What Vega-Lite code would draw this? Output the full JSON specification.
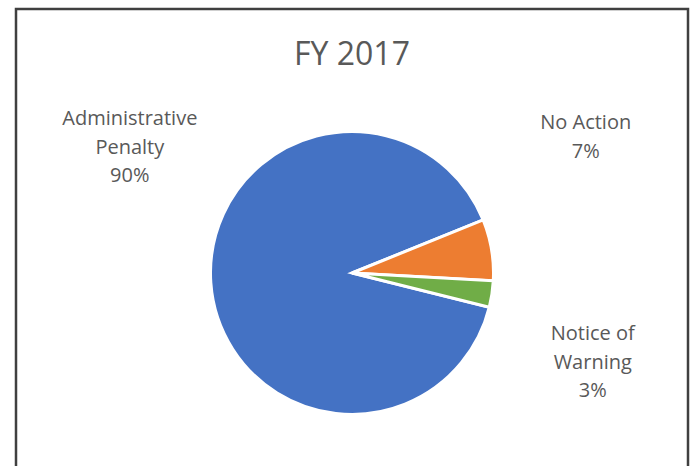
{
  "$schema": "https://vega.github.io/schema/vega-lite/v6.json",
  "width": 672,
  "height": 528,
  "autosize": {"type": "none"},
  "padding": {"left": 16, "top": 9, "right": 3, "bottom": 0},
  "background": "white",
  "view": {"stroke": "#404040", "strokeWidth": 2.5},
  "config": {"view": {"stroke": "#404040", "strokeWidth": 2.5}},
  "title": {
    "text": "FY 2017",
    "font": "Open Sans",
    "fontSize": 32,
    "fontWeight": "normal",
    "color": "#595959",
    "anchor": "middle",
    "baseline": "alphabetic",
    "offset": -56,
    "dy": 32
  },
  "data": {
    "values": [
      {"category": "Administrative Penalty", "percent": 90},
      {"category": "No Action", "percent": 7},
      {"category": "Notice of Warning", "percent": 3}
    ]
  },
  "transform": [
    {
      "calculate": "(datum.category === 'Administrative Penalty' ? 'Administrative|Penalty' : datum.category === 'Notice of Warning' ? 'Notice of|Warning' : datum.category) + '|' + datum.percent + '%'",
      "as": "label"
    }
  ],
  "encoding": {
    "theta": {
      "field": "percent",
      "type": "quantitative",
      "stack": true,
      "scale": {"range": [1.815, 8.098]}
    }
  },
  "layer": [
    {
      "mark": {"type": "arc", "outerRadius": 141.5, "stroke": "white", "strokeWidth": 3},
      "encoding": {
        "color": {
          "field": "category",
          "type": "nominal",
          "scale": {
            "domain": ["Administrative Penalty", "No Action", "Notice of Warning"],
            "range": ["#4472C4", "#ED7D31", "#70AD47"]
          },
          "legend": null
        }
      }
    },
    {
      "mark": {"type": "text", "radius": 255, "thetaOffset": 0.583, "dy": -28.5, "font": "Open Sans", "fontSize": 20, "color": "#595959", "align": "center", "baseline": "middle", "lineBreak": "|", "lineHeight": 28.5},
      "encoding": {
        "detail": {"field": "category"},
        "text": {"condition": {"test": "datum.category === 'Administrative Penalty'", "field": "label"}, "value": ""}
      }
    },
    {
      "mark": {"type": "text", "radius": 270, "thetaOffset": -0.36, "dy": -14.5, "font": "Open Sans", "fontSize": 20, "color": "#595959", "align": "center", "baseline": "middle", "lineBreak": "|", "lineHeight": 28.5},
      "encoding": {
        "detail": {"field": "category"},
        "text": {"condition": {"test": "datum.category === 'No Action'", "field": "label"}, "value": ""}
      }
    },
    {
      "mark": {"type": "text", "radius": 257, "thetaOffset": 0.208, "dy": -28.5, "font": "Open Sans", "fontSize": 20, "color": "#595959", "align": "center", "baseline": "middle", "lineBreak": "|", "lineHeight": 28.5},
      "encoding": {
        "detail": {"field": "category"},
        "text": {"condition": {"test": "datum.category === 'Notice of Warning'", "field": "label"}, "value": ""}
      }
    }
  ]
}
